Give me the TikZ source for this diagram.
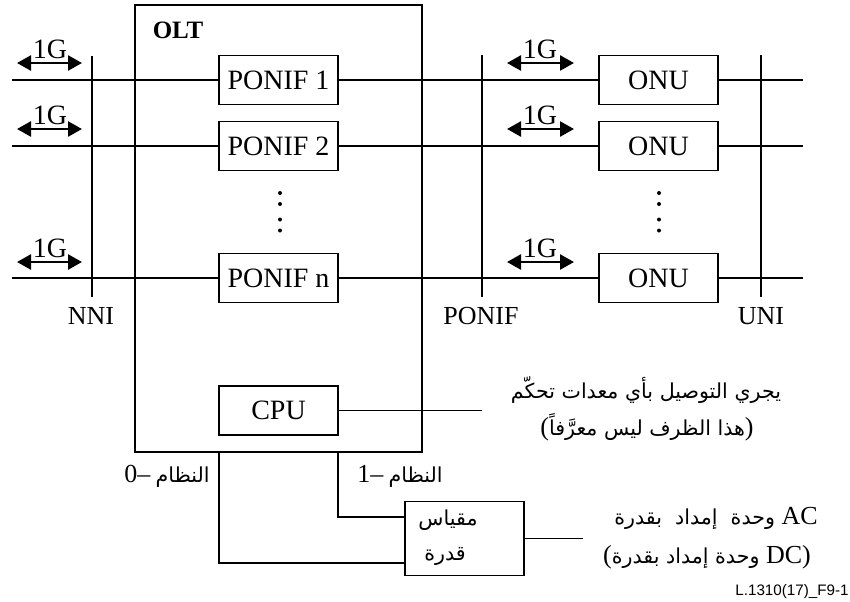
\documentclass[tikz,border=0pt]{standalone}
\usepackage{fontspec}
\setmainfont{Liberation Serif}
\newfontfamily\arabicfont[Script=Arabic]{DejaVu Sans}
\newfontfamily\labelsans{Liberation Sans}
\TeXXeTstate=1
\usetikzlibrary{arrows.meta}

\tikzset{
  unit/.style={draw, line width=0.8pt, minimum width=59.5pt, minimum height=24.5pt,
    inner sep=0pt, font=\fontsize{14}{16}\selectfont},
  wire/.style={line width=0.8pt},
  rate/.style={line width=1.3pt,
    {Triangle[length=7pt,width=7.5pt]}-{Triangle[length=7pt,width=7.5pt]}},
  txt/.style={font=\fontsize{14}{16}\selectfont, inner sep=0pt},
  iflabel/.style={font=\fontsize{13}{15}\selectfont, inner sep=0pt},
  artxt/.style={font=\fontsize{10.3}{12}\selectfont, inner sep=0pt},
  dot/.style={circle, fill, inner sep=0pt, minimum size=2pt},
}
\newcommand{\ar}{\arabicfont\fontsize{10.3}{12}\selectfont}
\newcommand{\lat}{\rmfamily\fontsize{13}{15}\selectfont}

\begin{document}
\begin{tikzpicture}[x=0.5pt,y=-0.5pt]
\useasboundingbox (0,0) rectangle (850,601);

% OLT frame
\node[draw, line width=0.8pt, minimum width=143.5pt, minimum height=223.5pt, inner sep=0pt]
  (olt) at (278.5,228.5) {};
\node[font=\bfseries\fontsize{12.5}{14}\selectfont, inner sep=0pt] (oltname) at (178,30) {OLT};

% PON interface cards and ONUs
\node[unit] (pon1) at (278.5,80)  {PONIF 1};
\node[unit] (pon2) at (278.5,146) {PONIF 2};
\node[unit] (ponn) at (278.5,278) {PONIF n};
\node[unit] (onu1) at (658.5,80)  {ONU};
\node[unit] (onu2) at (658.5,146) {ONU};
\node[unit] (onun) at (658.5,278) {ONU};

% dots between rows
\foreach \yy [count=\i] in {193,204,219.5,230.5} {
  \node[dot] (ldot\i) at (280,\yy) {};
  \node[dot] (rdot\i) at (659,\yy) {};
}

% interface reference lines
\coordinate (nniT) at (92,56);   \coordinate (nniB) at (92,297);
\coordinate (ponT) at (482,55);  \coordinate (ponB) at (482,297);
\coordinate (uniT) at (761,55);  \coordinate (uniB) at (761,297);
\draw[wire] (nniT) -- (nniB);
\draw[wire] (ponT) -- (ponB);
\draw[wire] (uniT) -- (uniB);
\node[iflabel] (nnilbl) at (91,316)  {NNI};
\node[iflabel] (ponlbl) at (481,316) {PONIF};
\node[iflabel] (unilbl) at (761,316) {UNI};

% signal lines through each row
\foreach \r/\yy in {1/80,2/146,n/278} {
  \coordinate (in\r) at (12,\yy);
  \coordinate (out\r) at (803,\yy);
  \draw[wire] (in\r) -- (pon\r.west);
  \draw[wire] (pon\r.east) -- (onu\r.west);
  \draw[wire] (onu\r.east) -- (out\r);
}

% 1G bidirectional rates
\foreach \r/\yy in {1/63,2/129,n/262} {
  \coordinate (la\r) at (17,\yy);  \coordinate (lb\r) at (82,\yy);
  \coordinate (ra\r) at (507,\yy); \coordinate (rb\r) at (574,\yy);
  \draw[rate] (la\r) -- (lb\r);
  \draw[rate] (ra\r) -- (rb\r);
  \node[txt] (lg\r) at (50,\yy-14) {1G};
  \node[txt] (rg\r) at (540,\yy-14) {1G};
}

% CPU and its control connection
\node[unit] (cpu) at (278.5,410.5) {CPU};
\coordinate (ctl) at (482,410.5);
\draw[wire] (cpu.east) -- (ctl);
\node[artxt] (ctl1) at (646,390) {\ar\beginR يجري التوصيل بأي معدات تحكّم\endR};
\node[artxt] (ctl2) at (647,427) {\lat(\ar\beginR هذا الظرف ليس معرَّفاً\endR\lat)};

% power feed
\node[draw, line width=0.8pt, minimum width=59.5pt, minimum height=37pt, inner sep=0pt]
  (pm) at (464.5,538.5) {};
\node[artxt] (pm1) at (448,520) {\ar مقياس};
\node[artxt] (pm2) at (445,556) {\ar قدرة};
\coordinate (s0) at (219,452);
\coordinate (s1) at (338,452);
\coordinate (p0) at (405,563);
\coordinate (p1) at (405,517);
\draw[wire] (s0) |- (p0);
\draw[wire] (s1) |- (p1);
\node[artxt] (sys0) at (167,476) {\beginR{\ar النظام}\ {\lat –}{\lat\beginL 0\endL}\endR};
\node[artxt] (sys1) at (400,476) {\beginR{\ar النظام}\ {\lat –}{\lat\beginL 1\endL}\endR};
\coordinate (mains) at (583,538.5);
\draw[wire] (pm.east) -- (mains);
\node[artxt] (ac1) at (716,518) {\ar\beginR وحدة\ \ إمداد\ \ بقدرة\endR\ \lat AC};
\node[artxt] (ac2) at (707,557) {\lat(\ar\beginR وحدة إمداد بقدرة\endR\ \lat DC)};

% figure reference
\node[font=\labelsans\fontsize{7.6}{9}\selectfont, inner sep=0pt, anchor=east] (ref) at (849,592) {L.1310(17)\_F9-1};
\end{tikzpicture}
\end{document}
